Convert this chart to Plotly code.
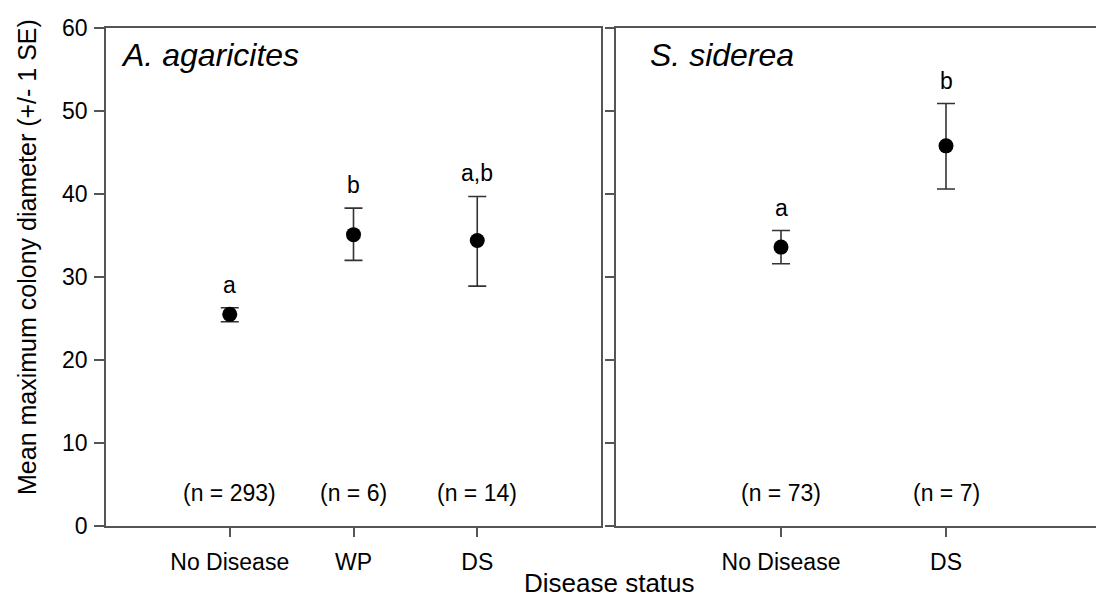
import plotly.graph_objects as go

# Mean maximum colony diameter by disease status, two coral species
agar_status = ["No Disease", "WP", "DS"]
agar_mean = [25.5, 35.1, 34.4]
agar_upper = [26.3, 38.3, 39.7]
agar_lower = [24.6, 32.0, 28.9]
agar_letters = ["a", "b", "a,b"]
agar_n = [293, 6, 14]

sid_status = ["No Disease", "DS"]
sid_mean = [33.6, 45.8]
sid_upper = [35.6, 50.9]
sid_lower = [31.6, 40.6]
sid_letters = ["a", "b"]
sid_n = [73, 7]

y_ticks = [0, 10, 20, 30, 40, 50, 60]

FONT = "Arial, 'Liberation Sans', sans-serif"
AXIS_COLOR = "#555555"
W, H = 1096, 600
ML, MR, MT, MB = 106, 0, 28, 74
plot_w = W - ML - MR
plot_h = H - MT - MB

left_dom = [0.0, (601 - ML) / plot_w]
right_dom = [(616 - ML) / plot_w, 1.0]
panel_px = 495  # full panel width in pixels
right_visible_px = (right_dom[1] - right_dom[0]) * plot_w

fig = go.Figure()


def add_panel(xref, yref, status, mean, upper, lower):
    xs = list(range(1, len(status) + 1))
    fig.add_trace(go.Scatter(
        x=xs, y=mean, xaxis=xref, yaxis=yref, mode="markers",
        marker=dict(color="black", size=15),
        error_y=dict(type="data", symmetric=False,
                     array=[u - m for u, m in zip(upper, mean)],
                     arrayminus=[m - l for m, l in zip(mean, lower)],
                     color="#333333", thickness=1.6, width=9),
        showlegend=False, hoverinfo="skip",
    ))


add_panel("x", "y", agar_status, agar_mean, agar_upper, agar_lower)
add_panel("x2", "y2", sid_status, sid_mean, sid_upper, sid_lower)

annotations = []


def panel_labels(xref, yref, status, upper, letters, n):
    for i, (u, let, cnt) in enumerate(zip(upper, letters, n), start=1):
        annotations.append(dict(x=i, y=u, xref=xref, yref=yref, text=let,
                                showarrow=False, yanchor="bottom", yshift=8,
                                font=dict(size=23, color="black", family=FONT)))
        annotations.append(dict(x=i, y=4, xref=xref, yref=yref,
                                text=f"(n = {cnt})", showarrow=False,
                                yanchor="middle",
                                font=dict(size=23, color="black", family=FONT)))


panel_labels("x", "y", agar_status, agar_upper, agar_letters, agar_n)
panel_labels("x2", "y2", sid_status, sid_upper, sid_letters, sid_n)

# species names in the panel corners
annotations.append(dict(x=13 / panel_px, y=1 - 27 / plot_h, xref="x domain", yref="y domain",
                        text="<i>A. agaricites</i>", showarrow=False,
                        xanchor="left", yanchor="middle",
                        font=dict(size=32, color="black", family=FONT)))
annotations.append(dict(x=32 / right_visible_px, y=1 - 27 / plot_h, xref="x2 domain", yref="y2 domain",
                        text="<i>S. siderea</i>", showarrow=False,
                        xanchor="left", yanchor="middle",
                        font=dict(size=32, color="black", family=FONT)))

# shared x title centred under both panels, resting on the bottom edge
annotations.append(dict(x=(609 - ML) / plot_w, y=-(600 - 526) / plot_h,
                        xref="paper", yref="paper", text="Disease status",
                        showarrow=False, xanchor="center", yanchor="bottom",
                        font=dict(size=26, color="black", family=FONT)))

# y title
annotations.append(dict(x=-(ML - 27) / plot_w, y=(526 - 257) / plot_h,
                        xref="paper", yref="paper",
                        text="Mean maximum colony diameter (+/- 1 SE)",
                        textangle=-90, showarrow=False,
                        xanchor="center", yanchor="middle",
                        font=dict(size=25, color="black", family=FONT)))

# horizontal frame lines extend out to the y tick ends
shapes = []
ext_l = 10 / panel_px
ext_r = 9 / right_visible_px
for yv in (0, 1):
    shapes.append(dict(type="line", xref="x domain", yref="y domain",
                       x0=-ext_l, x1=0, y0=yv, y1=yv,
                       line=dict(color=AXIS_COLOR, width=1.5)))
    shapes.append(dict(type="line", xref="x2 domain", yref="y2 domain",
                       x0=-ext_r, x1=0, y0=yv, y1=yv,
                       line=dict(color=AXIS_COLOR, width=1.5)))

axis_common = dict(showline=True, linecolor=AXIS_COLOR, linewidth=1.5,
                   showgrid=False, zeroline=False,
                   tickcolor=AXIS_COLOR, tickwidth=1.5,
                   tickfont=dict(size=23, color="black", family=FONT))

fig.update_layout(
    width=W, height=H,
    margin=dict(l=ML, r=MR, t=MT, b=MB),
    paper_bgcolor="white", plot_bgcolor="white",
    font=dict(family=FONT, color="black"),
    xaxis=dict(domain=left_dom, range=[0, 4],
               tickvals=[1, 2, 3], ticktext=agar_status,
               ticks="outside", ticklen=9, mirror=True,
               ticklabelstandoff=6, anchor="y", **axis_common),
    yaxis=dict(domain=[0, 1], range=[0, 60], tickvals=y_ticks,
               ticks="outside", ticklen=10, mirror=True,
               ticklabelstandoff=2, anchor="x", **axis_common),
    xaxis2=dict(domain=right_dom, range=[0, 3 * right_visible_px / panel_px],
                tickvals=[1, 2], ticktext=sid_status,
                ticks="outside", ticklen=9, mirror=True,
                ticklabelstandoff=6, anchor="y2", **axis_common),
    yaxis2=dict(domain=[0, 1], range=[0, 60], tickvals=y_ticks,
                ticks="outside", ticklen=9, showticklabels=False,
                anchor="x2", **axis_common),
    annotations=annotations,
    shapes=shapes,
)

fig.write_html("out.html")
